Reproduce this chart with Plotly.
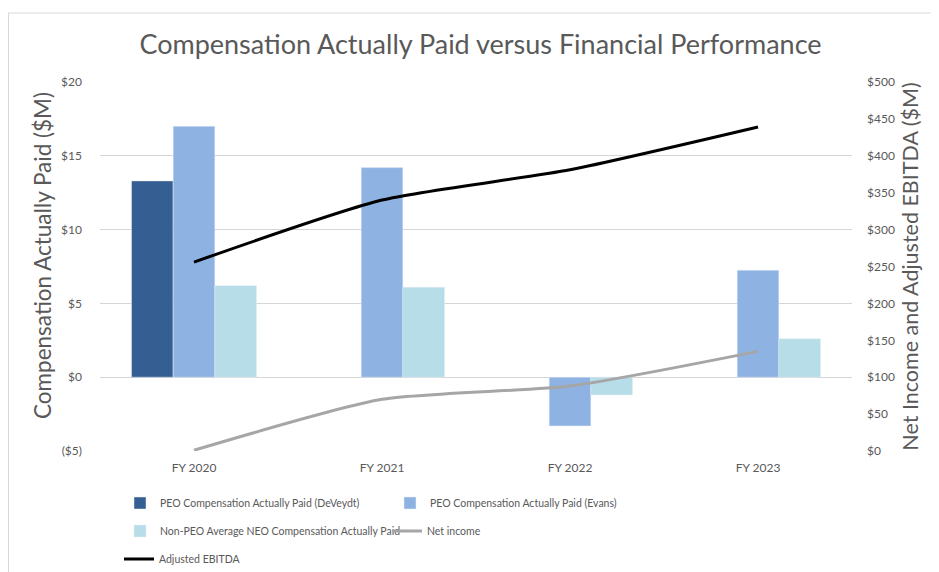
import plotly.graph_objects as go

years = ["FY 2020", "FY 2021", "FY 2022", "FY 2023"]
cap_deveydt = [13.3, None, None, None]
cap_evans = [17.0, 14.2, -3.3, 7.25]
cap_non_peo = [6.2, 6.1, -1.2, 2.6]
net_income = [1, 70, 88, 135]
adj_ebitda = [256, 340, 381, 439]

left_ticks = [-5, 0, 5, 10, 15, 20]
left_labels = ["($5)", "$0", "$5", "$10", "$15", "$20"]
right_ticks = [0, 50, 100, 150, 200, 250, 300, 350, 400, 450, 500]
right_labels = ["$" + str(v) for v in right_ticks]

FONT = "Lato"
GREY = "#595959"

fig = go.Figure()
fig.add_trace(go.Bar(x=years, y=cap_deveydt, name="PEO Compensation Actually Paid (DeVeydt)",
                     marker_color="#355F92", legend="legend", showlegend=True))
fig.add_trace(go.Bar(x=years, y=cap_evans, name="PEO Compensation Actually Paid (Evans)",
                     marker_color="#8EB3E2", legend="legend2", showlegend=True))
fig.add_trace(go.Bar(x=years, y=cap_non_peo, name="Non-PEO Average NEO Compensation Actually Paid",
                     marker_color="#B7DDE8", legend="legend3", showlegend=True))
fig.add_trace(go.Scatter(x=years, y=net_income, name="Net income", mode="lines",
                         line=dict(color="#A6A6A6", width=3, shape="spline", smoothing=0.6),
                         yaxis="y2", legend="legend4", showlegend=True))
fig.add_trace(go.Scatter(x=years, y=adj_ebitda, name="Adjusted EBITDA", mode="lines",
                         line=dict(color="#000000", width=3, shape="spline", smoothing=0.6),
                         yaxis="y2", legend="legend5", showlegend=True))

leg_common = dict(orientation="h", xanchor="left", yanchor="middle",
                  font=dict(family=FONT, size=10.5, color=GREY), bgcolor="rgba(0,0,0,0)")

# page is offset by 8px body margin; helpers take page pixel coords
def lx(px):
    return (px - 100) / 752

def ly(py):
    return 1 - (py - 82) / 369

fig.update_layout(
    width=931, height=564,
    margin=dict(l=92, r=87, t=74, b=121, autoexpand=False),
    paper_bgcolor="white", plot_bgcolor="white",
    showlegend=True,
    barmode="group", bargap=0.335, bargroupgap=0,
    title=dict(text="Compensation Actually Paid versus Financial Performance",
               x=0.5075, xanchor="center", y=1 - 37 / 564, yanchor="middle",
               font=dict(family=FONT, size=27, color=GREY)),
    xaxis=dict(showgrid=False, showline=False, ticks="", automargin=False, ticklabelstandoff=8,
               tickfont=dict(family=FONT, size=12, color=GREY)),
    yaxis=dict(range=[-5, 20], tickvals=left_ticks, ticktext=left_labels, automargin=False,
               showgrid=True, gridcolor="#D6D6D6", gridwidth=1,
               zeroline=True, zerolinecolor="#D6D6D6", zerolinewidth=1,
               tickfont=dict(family=FONT, size=12, color=GREY), ticklabelstandoff=17),
    yaxis2=dict(range=[0, 500], tickvals=right_ticks, ticktext=right_labels, automargin=False,
                overlaying="y", side="right", showgrid=False, zeroline=False,
                tickfont=dict(family=FONT, size=12, color=GREY), ticklabelstandoff=14,
                title=dict(text="Net Income and Adjusted EBITDA ($M)", standoff=9,
                           font=dict(family=FONT, size=21.5, color=GREY))),
    annotations=[
        dict(text="Compensation Actually Paid ($M)", xref="paper", yref="paper",
             x=lx(42), y=ly(256), xanchor="center", yanchor="middle", textangle=-90,
             showarrow=False, font=dict(family=FONT, size=22.5, color=GREY)),
    ],
    legend=dict(x=lx(120), y=ly(503), **leg_common),
    legend2=dict(x=lx(390), y=ly(503), **leg_common),
    legend3=dict(x=lx(120), y=ly(531), **leg_common),
    legend4=dict(x=lx(387), y=ly(531), **leg_common),
    legend5=dict(x=lx(119), y=ly(559), **leg_common),
    shapes=[
        dict(type="line", xref="paper", yref="paper", x0=lx(8), x1=1.2, y0=ly(13), y1=ly(13),
             line=dict(color="#D9D9D9", width=1)),
        dict(type="line", xref="paper", yref="paper", x0=lx(8.5), x1=lx(8.5), y0=ly(13), y1=-0.5,
             line=dict(color="#D9D9D9", width=1)),
    ],
)

fig.write_html("out.html")
